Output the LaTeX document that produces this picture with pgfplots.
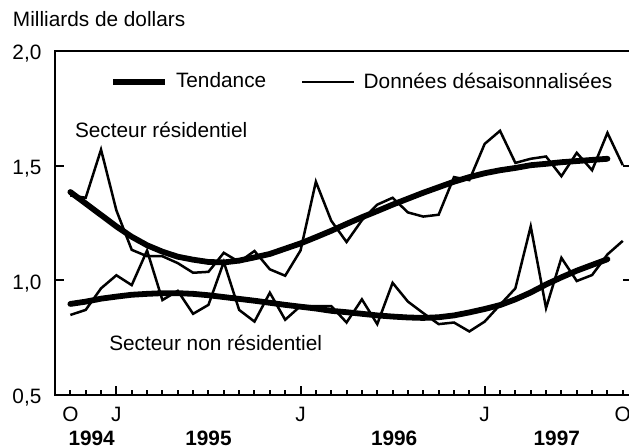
\documentclass[border=0pt]{standalone}
\usepackage{fontspec}
\setmainfont{Liberation Sans}
\usepackage{pgfplots}
\usepackage{pgfplotstable}
\pgfplotsset{compat=1.18}

% k = months since October 1994
\pgfplotstableread{
k  res    rest   nonres nonrest
0  1.370  1.385  0.849  0.897
1  1.360  1.335  0.871  0.907
2  1.570  1.285  0.965  0.920
3  1.305  1.235  1.022  0.929
4  1.133  1.190  0.979  0.937
5  1.105  1.153  1.130  0.941
6  1.105  1.125  0.914  0.944
7  1.075  1.103  0.954  0.944
8  1.033  1.090  0.854  0.941
9  1.037  1.080  0.893  0.935
10 1.120  1.078  1.080  0.927
11 1.080  1.086  0.871  0.919
12 1.128  1.100  0.820  0.911
13 1.048  1.115  0.946  0.902
14 1.020  1.138  0.828  0.893
15 1.130  1.161  0.888  0.885
16 1.430  1.188  0.888  0.877
17 1.260  1.216  0.888  0.867
18 1.167  1.246  0.816  0.861
19 1.262  1.275  0.917  0.854
20 1.330  1.302  0.809  0.847
21 1.360  1.330  0.989  0.842
22 1.296  1.356  0.907  0.838
23 1.278  1.382  0.857  0.836
24 1.286  1.406  0.809  0.839
25 1.450  1.430  0.816  0.847
26 1.437  1.450  0.777  0.860
27 1.595  1.467  0.820  0.875
28 1.652  1.480  0.893  0.892
29 1.512  1.490  0.965  0.917
30 1.530  1.502  1.235  0.947
31 1.540  1.508  0.879  0.982
32 1.454  1.515  1.098  1.013
33 1.556  1.520  0.997  1.042
34 1.480  1.525  1.023  1.067
35 1.643  1.530  1.113  1.092
36 1.502  nan    1.172  nan
}\data

\begin{document}
\fontsize{10.4}{12.5}\selectfont
\begin{tikzpicture}
\begin{axis}[
    name=ax,
    scale only axis,
    width=288.5pt, height=172pt,
    xmin=-1, xmax=36.6,
    ymin=0.5, ymax=2,
    clip=false,
    unbounded coords=jump,
    axis line style={line width=1.4pt},
    tick style={line width=1pt, black},
    major tick length=4.5pt,
    minor tick length=2.5pt,
    xtick pos=bottom,
    xtick={3,15,27},
    xticklabels={J,J,J},
    minor xtick={0,1,...,36},
    extra x ticks={0,36},
    extra x tick labels={O,O},
    extra x tick style={major tick length=0pt},
    xticklabel style={anchor=base, inner sep=0pt, yshift=-13.3pt},
    ytick={0.5,1,1.5,2},
    /pgf/number format/assume math mode=true,
    yticklabel style={/pgf/number format/.cd, fixed, fixed zerofill, precision=1, use comma,
        /tikz/.cd, anchor=east, inner sep=0pt, xshift=-6.6pt, yshift=-1.5pt},
    legend columns=2,
    legend cell align=left,
    legend image code/.code={\draw[#1, line cap=butt] (0pt,0pt) -- (26pt,0pt);},
    legend style={draw=none, fill=none, inner sep=0pt,
        at={(axis description cs:0.095,0.91)}, anchor=west,
        nodes={inner sep=0pt},
        /tikz/every odd column/.append style={column sep=4pt},
        /tikz/every even column/.append style={column sep=17.5pt}},
]
\addplot[black, line width=2.9pt, line cap=round] table[x=k, y=rest] {\data};
\addlegendentry{Tendance}
\addplot[black, line width=1.25pt] table[x=k, y=res] {\data};
\addlegendentry{Données désaisonnalisées}
\addplot[black, line width=2.9pt, line cap=round, forget plot] table[x=k, y=nonrest] {\data};
\addplot[black, line width=1.25pt, forget plot] table[x=k, y=nonres] {\data};

\node[anchor=base west, inner sep=0pt] at (axis cs:0.28,1.621) {Secteur résidentiel};
\node[anchor=base west, inner sep=0pt] at (axis cs:2.51,0.696) {Secteur non résidentiel};

\node[anchor=base, inner sep=0pt, font=\bfseries, yshift=-25.5pt] at (axis cs:1.39,0.5) {1994};
\node[anchor=base, inner sep=0pt, font=\bfseries, yshift=-25.5pt] at (axis cs:9.0,0.5) {1995};
\node[anchor=base, inner sep=0pt, font=\bfseries, yshift=-25.5pt] at (axis cs:21.1,0.5) {1996};
\node[anchor=base, inner sep=0pt, font=\bfseries, yshift=-25.5pt] at (axis cs:31.7,0.5) {1997};
\end{axis}
\node[anchor=base west, inner sep=0pt] at ([xshift=-21.2pt, yshift=12pt]ax.north west) {Milliards de dollars};
\pgfresetboundingbox
\path[use as bounding box] ([xshift=-27.5pt, yshift=-26.5pt]ax.south west) rectangle ([xshift=-1.5pt, yshift=25.5pt]ax.north east);
\end{tikzpicture}
\end{document}
